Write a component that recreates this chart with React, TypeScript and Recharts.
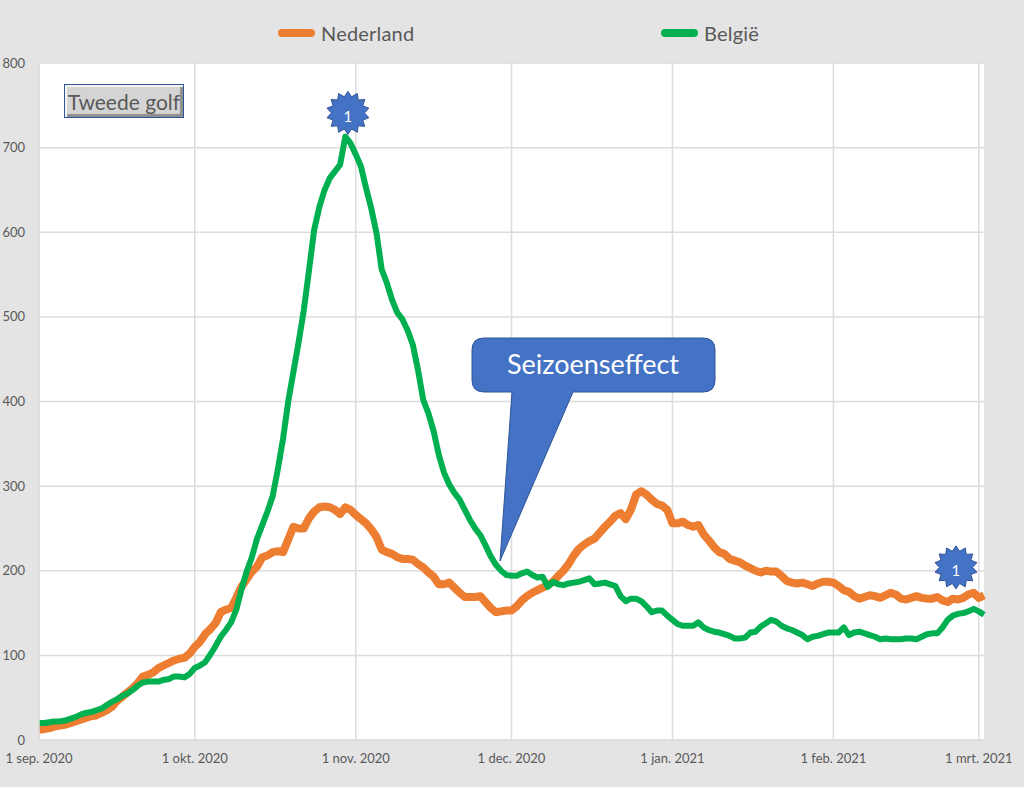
import { CartesianGrid, Legend, Line, LineChart, ReferenceDot, XAxis, YAxis } from 'recharts'

const FONT = 'Lato, sans-serif'
const TEXT = '#595959'
const GRID = '#dcdcdc'
const BLUE = '#4472c4'
const BLUE_DARK = '#2f5597'

// one value per day, starting at 1 sep. 2020
const nederland = [
  12, 13, 14, 16, 17, 18, 20, 22, 24, 26,
  28, 29, 32, 35, 39, 46, 51, 56, 61, 67,
  75, 77, 80, 85, 88, 91, 94, 96, 97, 102,
  110, 116, 125, 131, 138, 151, 154, 156, 168, 181,
  190, 199, 205, 216, 218, 222, 223, 222, 237, 252,
  250, 250, 262, 270, 275, 276, 275, 272, 267, 275,
  272, 266, 261, 256, 249, 240, 225, 222, 220, 216,
  214, 214, 213, 208, 204, 198, 193, 184, 184, 186,
  180, 174, 169, 169, 169, 170, 163, 156, 151, 152,
  153, 153, 158, 165, 170, 174, 177, 180, 183, 187,
  194, 200, 208, 218, 226, 231, 235, 238, 245, 252,
  258, 265, 268, 261, 272, 290, 294, 290, 284, 279,
  277, 272, 256, 256, 258, 254, 252, 254, 243, 236,
  228, 222, 220, 214, 212, 210, 206, 203, 200, 198,
  200, 199, 199, 194, 188, 186, 185, 186, 184, 182,
  185, 187, 187, 186, 182, 177, 175, 170, 167, 169,
  171, 170, 168, 171, 174, 172, 167, 166, 168, 170,
  168, 167, 167, 169, 165, 163, 167, 166, 168, 172,
  174, 168, 171,
]

const belgie = [
  20, 20, 21, 22, 22, 23, 25, 27, 30, 32,
  33, 35, 37, 41, 45, 48, 52, 55, 59, 64,
  68, 69, 69, 69, 71, 72, 75, 75, 74, 78,
  85, 88, 92, 101, 111, 122, 130, 139, 154, 178,
  199, 216, 238, 254, 270, 288, 320, 356, 400, 435,
  470, 508, 555, 603, 630, 650, 664, 672, 680, 713,
  705, 692, 678, 652, 628, 599, 556, 540, 520, 505,
  497, 484, 467, 437, 402, 386, 365, 337, 316, 302,
  292, 284, 272, 260, 250, 242, 230, 217, 207, 200,
  195, 194, 194, 197, 199, 195, 192, 193, 181, 187,
  184, 183, 185, 186, 187, 189, 191, 184, 185, 186,
  184, 182, 170, 164, 167, 167, 164, 158, 151, 153,
  153, 147, 142, 137, 135, 135, 135, 139, 133, 130,
  128, 127, 125, 123, 120, 120, 121, 127, 128, 134,
  138, 142, 140, 135, 132, 130, 127, 124, 119, 122,
  123, 125, 127, 127, 127, 133, 124, 127, 128, 126,
  124, 122, 119, 120, 119, 119, 119, 120, 120, 119,
  122, 125, 126, 126, 133, 142, 147, 149, 150, 152,
  155, 152, 148,
]

const monthDays = [0, 30, 61, 91, 122, 153, 181]
const monthLabels = ['1 sep. 2020', '1 okt. 2020', '1 nov. 2020', '1 dec. 2020', '1 jan. 2021', '1 feb. 2021', '1 mrt. 2021']
const valueTicks = [0, 100, 200, 300, 400, 500, 600, 700, 800]

const legendLeft = [278, 661]

const chartData = nederland.map((nl, i) => ({ day: i, nederland: nl, belgie: belgie[i] }))

function Star({ cx, cy }: { cx?: number; cy?: number }) {
  const x = cx ?? 0
  const y = cy ?? 0
  const points: string[] = []
  for (let i = 0; i < 28; i++) {
    const r = i % 2 === 0 ? 21.5 : 16.5
    const a = (Math.PI * i) / 14 - Math.PI / 2
    points.push(x + r * Math.cos(a) + ',' + (y + r * Math.sin(a)))
  }
  return (
    <g>
      <polygon points={points.join(' ')} fill={BLUE} stroke={BLUE_DARK} strokeWidth={1} />
      <text x={x} y={y + 5} textAnchor="middle" dominantBaseline="middle" fontSize={15} fontFamily={FONT} fill="#fff">
        1
      </text>
    </g>
  )
}

function LegendItems({ payload }: { payload?: ReadonlyArray<{ value?: string; color?: string }> }) {
  return (
    <div style={{ position: 'relative', height: 26 }}>
      {(payload ?? []).map((item, i) => (
        <div key={item.value} style={{ position: 'absolute', left: legendLeft[i], top: 0, height: 26, display: 'flex', alignItems: 'center' }}>
          <span style={{ display: 'block', width: 37, height: 8, borderRadius: 4, background: item.color, marginRight: 6 }} />
          <span style={{ fontFamily: FONT, fontSize: 20, color: TEXT, letterSpacing: 0.2 }}>{item.value}</span>
        </div>
      ))}
    </div>
  )
}

export default function App() {
  return (
    <div style={{ position: 'absolute', left: 0, top: 0, width: 1024, height: 787, background: '#e4e4e4', overflow: 'hidden' }}>
      <LineChart width={1024} height={787} data={chartData} margin={{ top: 63, right: 40, bottom: 0, left: 0 }}>
        <CartesianGrid fill="#ffffff" stroke={GRID} strokeWidth={1.5} horizontalValues={valueTicks} verticalValues={monthDays} />
        <XAxis
          dataKey="day"
          type="number"
          domain={[0, 182]}
          ticks={monthDays}
          interval={0}
          height={47}
          axisLine={{ stroke: GRID, strokeWidth: 1.5 }}
          tickLine={false}
          tickSize={0}
          tickMargin={14}
          tick={{ fontSize: 13, fontFamily: FONT, fill: TEXT }}
          tickFormatter={(d: number) => monthLabels[monthDays.indexOf(d)]}
        />
        <YAxis
          type="number"
          domain={[0, 800]}
          ticks={valueTicks}
          interval={0}
          width={39}
          axisLine={{ stroke: GRID, strokeWidth: 1.5 }}
          tickLine={false}
          tickSize={0}
          tickMargin={14}
          tick={{ fontSize: 13, fontFamily: FONT, fill: TEXT }}
        />
        <Legend
          verticalAlign="middle"
          itemSorter={null}
          wrapperStyle={{ top: 20, left: 0, width: 1024 }}
          content={(props: any) => <LegendItems payload={props.payload} />}
        />
        <Line
          name="Nederland"
          dataKey="nederland"
          type="linear"
          stroke="#ed7d31"
          strokeWidth={8}
          strokeLinejoin="round"
          dot={false}
          isAnimationActive={false}
        />
        <Line
          name="België"
          dataKey="belgie"
          type="linear"
          stroke="#00b050"
          strokeWidth={6}
          strokeLinejoin="round"
          dot={false}
          isAnimationActive={false}
        />
        <ReferenceDot x={59.5} y={741} shape={(p: any) => <Star cx={p.cx} cy={p.cy} />} />
        <ReferenceDot x={176.6} y={204} shape={(p: any) => <Star cx={p.cx} cy={p.cy} />} />
      </LineChart>

      <svg width={1024} height={787} style={{ position: 'absolute', left: 0, top: 0, pointerEvents: 'none' }}>
        <path
          d="M484 338 H703 Q715 338 715 350 V380 Q715 392 703 392 H573 L500 561 L512 392 H484 Q472 392 472 380 V350 Q472 338 484 338 Z"
          fill={BLUE}
          stroke={BLUE_DARK}
          strokeWidth={1}
        />
        <text x={593} y={367} textAnchor="middle" dominantBaseline="middle" fontSize={27} fontFamily={FONT} fill="#fff">
          Seizoenseffect
        </text>
      </svg>

      <div
        style={{
          position: 'absolute',
          left: 64,
          top: 84,
          width: 120,
          height: 34,
          boxSizing: 'border-box',
          border: '1px solid #2f5597',
          background: '#d4d4d4',
          boxShadow: 'inset 2px 2px 1px #f4f4f4, inset -3px -3px 1px #8f8f8f',
          display: 'flex',
          alignItems: 'center',
          justifyContent: 'center',
          fontFamily: FONT,
          fontSize: 21,
          color: TEXT,
        }}
      >
        Tweede golf
      </div>
    </div>
  )
}
